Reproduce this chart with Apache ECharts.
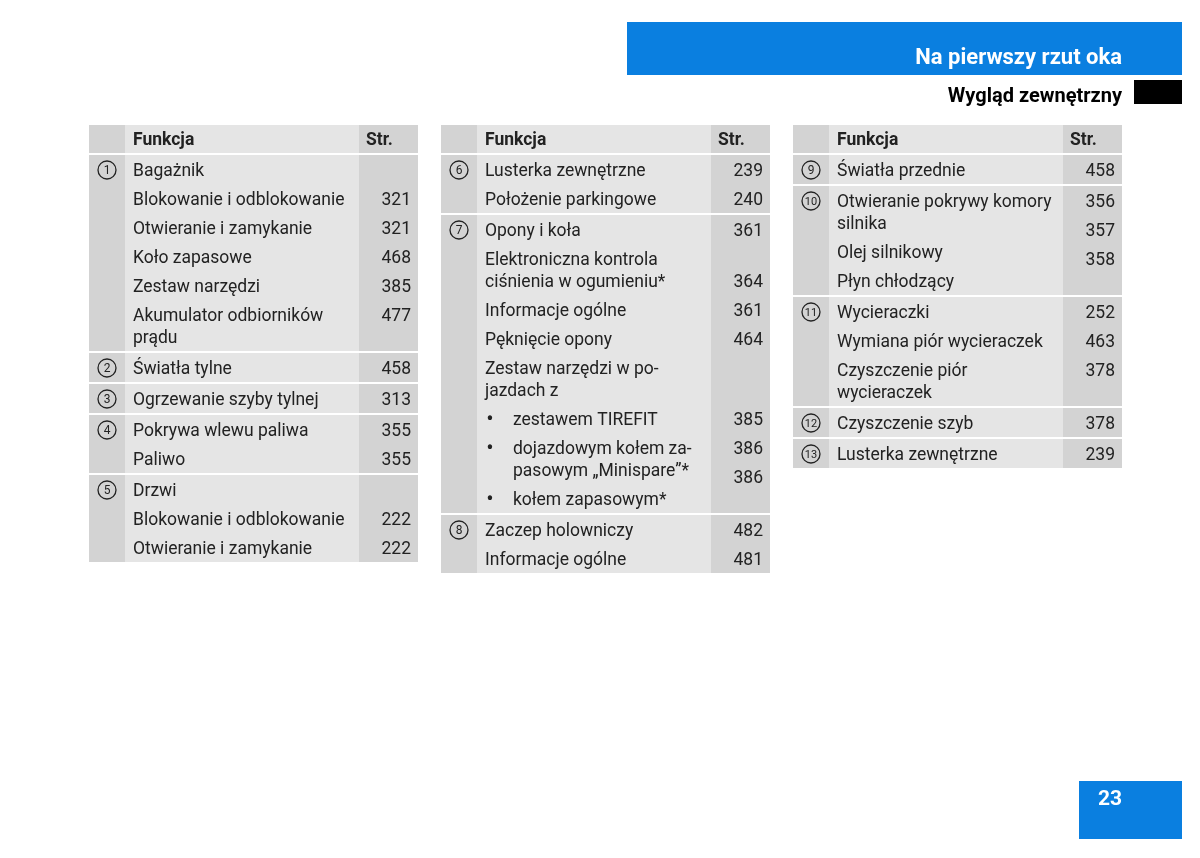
<!DOCTYPE html>
<html>
<head>
<meta charset="utf-8">
<script src="https://cdn.jsdelivr.net/npm/echarts@6/dist/echarts.min.js"></script>
<style>
html, body { margin: 0; padding: 0; background: #fff; }
#chart { width: 1200px; height: 858px; }
</style>
</head>
<body>
<div id="chart"></div>
<script>
// texts of the page
const pageTitle = 'Na pierwszy rzut oka'
const sectionTitle = 'Wygląd zewnętrzny'
const pageNumber = '23'
const headerLabels = ['Funkcja', 'Str.']

// [numer, [[funkcja, strona, wyrównanie strony], ...]]
const table1 = [
    [1, [['Bagażnik', ''], ['Blokowanie i odblokowanie', '321'], ['Otwieranie i zamykanie', '321'],
         ['Koło zapasowe', '468'], ['Zestaw narzędzi', '385'], ['Akumulator odbiorników\nprądu', '477']]],
    [2, [['Światła tylne', '458']]],
    [3, [['Ogrzewanie szyby tylnej', '313']]],
    [4, [['Pokrywa wlewu paliwa', '355'], ['Paliwo', '355']]],
    [5, [['Drzwi', ''], ['Blokowanie i odblokowanie', '222'], ['Otwieranie i zamykanie', '222']]]
]
const table2 = [
    [6, [['Lusterka zewnętrzne', '239'], ['Położenie parkingowe', '240']]],
    [7, [['Opony i koła', '361'], ['Elektroniczna kontrola\nciśnienia w ogumieniu*', '364', 'last'],
         ['Informacje ogólne', '361'], ['Pęknięcie opony', '464'], ['Zestaw narzędzi w po-\njazdach z', ''],
         ['• zestawem TIREFIT', '385'], ['• dojazdowym kołem za-\npasowym „Minispare”*', '386\n386'],
         ['• kołem zapasowym*', '']]],
    [8, [['Zaczep holowniczy', '482'], ['Informacje ogólne', '481']]]
]
const table3 = [
    [9, [['Światła przednie', '458']]],
    [10, [['Otwieranie pokrywy komory\nsilnika', '356\n357\n358'], ['Olej silnikowy', ''], ['Płyn chłodzący', '']]],
    [11, [['Wycieraczki', '252'], ['Wymiana piór wycieraczek', '463'], ['Czyszczenie piór\nwycieraczek', '378']]],
    [12, [['Czyszczenie szyb', '378']]],
    [13, [['Lusterka zewnętrzne', '239']]]
]
const tables = [table1, table2, table3]

// layout
const tableLeft = [89, 441, 793]
const colWidths = [36, 234, 59]
const tableTop = 125
const headerH = 28
const gap = 2
const rowH = 29
const wrapH = 22
const firstLine = 16.5

const BLUE = '#0a7fe0'
const DARK = '#d3d3d3'
const LIGHT = '#e5e5e5'
const INK = '#222222'
const FONT = 'Roboto'

const boxes = []
const labels = []
const rings = []

// page header / footer
boxes.push({ x: 627, y: 22, w: 555, h: 53, color: BLUE })
boxes.push({ x: 1134, y: 80, w: 48, h: 24, color: '#000' })
boxes.push({ x: 1079, y: 781, w: 103, h: 58, color: BLUE })
labels.push({ x: 1122, y: 58, text: pageTitle, align: 'right', size: 22, weight: 'bold', color: '#fff' })
labels.push({ x: 1122, y: 97, text: sectionTitle, align: 'right', size: 20, weight: 'bold', color: '#000' })
labels.push({ x: 1110, y: 800, text: pageNumber, align: 'center', size: 21, weight: 'bold', color: '#fff' })

tables.forEach((groups, t) => {
    const x0 = tableLeft[t]
    const x1 = x0 + colWidths[0]
    const x2 = x1 + colWidths[1]
    const x3 = x2 + colWidths[2]
    let y = tableTop

    boxes.push({ x: x0, y: y, w: colWidths[0], h: headerH, color: DARK })
    boxes.push({ x: x1, y: y, w: colWidths[1], h: headerH, color: LIGHT })
    boxes.push({ x: x2, y: y, w: colWidths[2], h: headerH, color: DARK })
    labels.push({ x: x1 + 8, y: y + 16, text: headerLabels[0], weight: 'bold' })
    labels.push({ x: x2 + 7, y: y + 16, text: headerLabels[1], weight: 'bold' })
    y += headerH

    groups.forEach(([mark, entries]) => {
        const top = y + gap
        let h = 0
        entries.forEach(e => { h += rowH + wrapH * (e[0].split('\n').length - 1) })
        boxes.push({ x: x0, y: top, w: colWidths[0], h: h, color: DARK })
        boxes.push({ x: x1, y: top, w: colWidths[1], h: h, color: LIGHT })
        boxes.push({ x: x2, y: top, w: colWidths[2], h: h, color: DARK })
        rings.push({ x: (x0 + x1) / 2, y: top + 15, text: String(mark) })

        let ey = top
        entries.forEach(([txt, page, align]) => {
            const lines = txt.split('\n')
            const first = ey + firstLine
            const bullet = lines[0].startsWith('• ')
            lines.forEach((ln, k) => {
                let s = ln
                let tx = x1 + 8
                if (bullet) {
                    tx = x1 + 36
                    if (k === 0) {
                        s = ln.slice(2)
                        labels.push({ x: x1 + 13, y: first, text: '•', align: 'center', size: 22 })
                    }
                }
                labels.push({ x: tx, y: first + k * wrapH, text: s })
            })
            if (page) {
                page.split('\n').forEach((p, k) => {
                    const py = align === 'last' ? first + (lines.length - 1) * wrapH : first + k * rowH
                    labels.push({ x: x3 - 7, y: py, text: p, align: 'right' })
                })
            }
            ey += rowH + wrapH * (lines.length - 1)
        })
        y = top + h
    })
})

const chart = echarts.init(document.getElementById('chart'))
chart.setOption({
    animation: false,
    grid: { left: 0, right: 0, top: 0, bottom: 0 },
    xAxis: { type: 'value', min: 0, max: 1200, show: false },
    yAxis: { type: 'value', min: 0, max: 858, inverse: true, show: false },
    series: [
        {
            type: 'custom',
            silent: true,
            data: boxes.map(b => [b.x, b.y, b.x + b.w, b.y + b.h]),
            renderItem(params, api) {
                const b = boxes[params.dataIndex]
                const p0 = api.coord([api.value(0), api.value(1)])
                const p1 = api.coord([api.value(2), api.value(3)])
                return {
                    type: 'rect',
                    shape: { x: p0[0], y: p0[1], width: p1[0] - p0[0], height: p1[1] - p0[1] },
                    style: { fill: b.color }
                }
            }
        },
        {
            type: 'custom',
            silent: true,
            data: rings.map(r => [r.x, r.y]),
            renderItem(params, api) {
                const r = rings[params.dataIndex]
                const p = api.coord([api.value(0), api.value(1)])
                return {
                    type: 'group',
                    children: [
                        { type: 'circle', shape: { cx: p[0], cy: p[1], r: 9 }, style: { fill: 'none', stroke: '#222', lineWidth: 1.3 } },
                        { type: 'text', x: p[0], y: p[1] + 1, style: { text: r.text, fill: INK, fontFamily: FONT, fontSize: r.text.length > 1 ? 11 : 12, align: 'center', verticalAlign: 'middle' } }
                    ]
                }
            }
        },
        {
            type: 'custom',
            silent: true,
            data: labels.map(l => [l.x, l.y]),
            renderItem(params, api) {
                const l = labels[params.dataIndex]
                const p = api.coord([api.value(0), api.value(1)])
                return {
                    type: 'text',
                    x: p[0],
                    y: p[1],
                    style: {
                        text: l.text,
                        fill: l.color || INK,
                        fontFamily: FONT,
                        fontSize: l.size || 17.5,
                        fontWeight: l.weight || 'normal',
                        align: l.align || 'left',
                        verticalAlign: 'middle'
                    }
                }
            }
        }
    ]
})
</script>
</body>
</html>
